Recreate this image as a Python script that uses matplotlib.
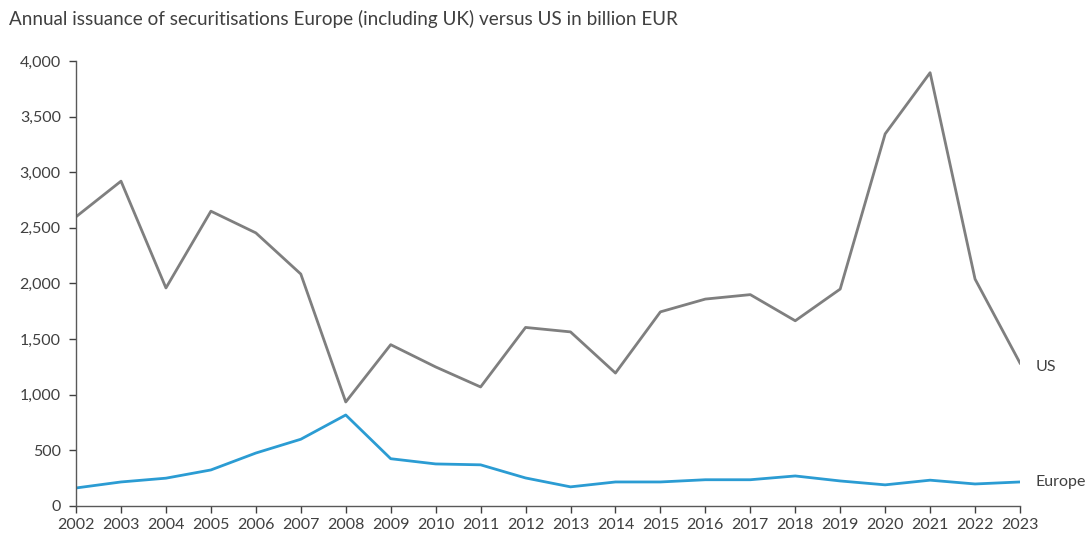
import matplotlib
matplotlib.use("Agg")
from matplotlib import pyplot as plt
from matplotlib.ticker import FuncFormatter

years = list(range(2002, 2024))
us = [2600, 2920, 1960, 2650, 2455, 2085, 935, 1450, 1250, 1070, 1605,
      1565, 1195, 1745, 1860, 1900, 1665, 1950, 3345, 3895, 2040, 1285]
europe = [162, 216, 250, 324, 476, 600, 818, 425, 378, 370, 252,
          172, 216, 216, 236, 236, 270, 225, 190, 232, 198, 216]

plt.rcParams['font.family'] = ['Lato', 'DejaVu Sans']

fig = plt.figure(figsize=(10.88, 5.38), dpi=100)
ax = fig.add_axes([0.0699, 0.0595, 0.8676, 0.8271])

ax.plot(years, us, color='#7f7f7f', linewidth=2.0)
ax.plot(years, europe, color='#2b9cd3', linewidth=2.0)

ax.set_xlim(2002, 2023)
ax.set_ylim(0, 4000)
ax.set_xticks(years)
ax.set_yticks(range(0, 4001, 500))
ax.yaxis.set_major_formatter(FuncFormatter(lambda v, p: f'{int(v):,}'))

for side in ['top', 'right']:
    ax.spines[side].set_visible(False)
for side in ['left', 'bottom']:
    ax.spines[side].set_color('#595959')
    ax.spines[side].set_linewidth(1.0)
ax.tick_params(colors='#404040', labelsize=11.5, length=5, width=1.0)
ax.tick_params(axis='x', pad=4)
ax.tick_params(axis='y', pad=6)

# end-of-line labels
ax.text(2023.35, us[-1] - 40, 'US', va='center', ha='left', fontsize=11.5,
        color='#404040', clip_on=False)
ax.text(2023.35, europe[-1], 'Europe', va='center', ha='left',
        fontsize=11.5, color='#404040', clip_on=False)

fig.text(0.008, 0.965, 'Annual issuance of securitisations Europe (including UK) '
         'versus US in billion EUR', fontsize=13.6, color='#404040',
         va='center', ha='left')

fig.savefig('out.png', dpi=100)
